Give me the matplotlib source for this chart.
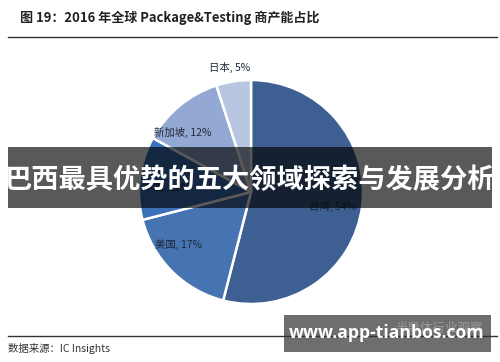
import matplotlib.pyplot as plt
from matplotlib.patches import Rectangle

plt.rcParams['font.family'] = ['Noto Sans CJK SC', 'DejaVu Sans']

# data
regions = ["台湾", "美国", "中国", "新加坡", "日本"]
shares = [54, 17, 12, 12, 5]
colors = ["#3e5f92", "#4673b2", "#3a70b8", "#93a8d2", "#b8c6e2"]
# label positions in pie units (radius 1)
label_pos = [(0.73, -0.13), (-0.65, -0.47), (-0.75, 0.04), (-0.61, 0.53), (-0.19, 1.11)]

W, H = 500, 362
fig = plt.figure(figsize=(5, 3.62), dpi=100)


def fx(x):
    return x / W


def fy(y):
    return 1 - y / H


# pie
cx, cy, r = 251, 192, 112
ax = fig.add_axes([fx(cx - r), fy(cy + r), 2 * r / W, 2 * r / H])
ax.pie(shares, colors=colors, startangle=90, counterclock=False,
       wedgeprops=dict(edgecolor="white", linewidth=1.8))
ax.set_xlim(-1, 1)
ax.set_ylim(-1, 1)
ax.set_aspect("auto")
for name, s, (lx, ly) in zip(regions, shares, label_pos):
    ax.text(lx, ly, "{}, {}%".format(name, s), ha="center", va="center",
            fontsize=7.5, color="#1e2a3a", clip_on=False)

# title and rules
fig.text(fx(20), fy(18), "图 19：2016 年全球 Package&Testing 商产能占比",
         fontsize=9.4, fontweight="bold", color="#222222", va="center")
fig.add_artist(plt.Line2D([fx(8), fx(497)], [fy(37), fy(37)], color="#333333", lw=1))
fig.add_artist(plt.Line2D([fx(8), fx(497)], [fy(336), fy(336)], color="#333333", lw=1))
fig.text(fx(8), fy(348), "数据来源：IC Insights", fontsize=7.5, color="#333333", va="center")

# faded logo text behind the watermark box
fig.text(fx(395), fy(328), "半导体行业观察", fontsize=9, color="#9a9a9a", va="center")

# overlay band
fig.add_artist(Rectangle((fx(8), fy(208)), fx(484), (208 - 147) / H,
                         transform=fig.transFigure, facecolor="black", alpha=0.65,
                         edgecolor="none"))
fig.text(fx(250), fy(180), "巴西最具优势的五大领域探索与发展分析", fontsize=19.6,
         fontweight="bold", color="white", ha="center", va="center")

# bottom-right watermark box
fig.add_artist(Rectangle((fx(284), fy(352)), fx(207), (352 - 315) / H,
                         transform=fig.transFigure, facecolor="#555555", alpha=0.85,
                         edgecolor="none"))
fig.text(fx(387), fy(333), "www.app-tianbos.com", fontsize=12.6, fontweight="bold",
         color="white", ha="center", va="center", family=["Open Sans", "DejaVu Sans"])

fig.savefig("out.png", dpi=100)
